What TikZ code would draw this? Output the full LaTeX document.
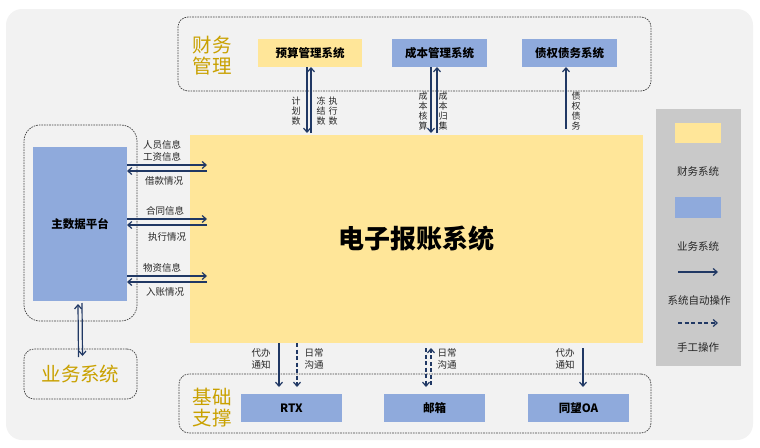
\documentclass[tikz,border=0pt]{standalone}
\usepackage{fontspec}
\setmainfont{Noto Sans CJK SC}
\usetikzlibrary{arrows.meta}
\definecolor{bgc}{HTML}{F2F2F2}
\definecolor{yel}{HTML}{FFE699}
\definecolor{blu}{HTML}{8FAADC}
\definecolor{legc}{HTML}{C9C9C9}
\definecolor{goldc}{HTML}{C9A100}
\definecolor{arrc}{HTML}{203864}
\definecolor{txtc}{HTML}{262626}
\begin{document}
\begin{tikzpicture}[x=1pt,y=-1pt,
  sysbox/.style={inner sep=0pt,outer sep=0pt,font=\fontsize{11.5}{12}\selectfont\bfseries,text=black},
  finbox/.style={sysbox,fill=yel},
  busbox/.style={sysbox,fill=blu},
  grp/.style={draw=black!75,line width=0.7pt,dash pattern=on 1.6pt off 1pt,rounded corners=10pt,inner sep=0pt,outer sep=0pt},
  goldlbl/.style={text=goldc,font=\fontsize{19.5}{21}\selectfont,align=center,inner sep=0pt},
  lbl/.style={text=txtc,font=\fontsize{9.5}{12}\selectfont,inner sep=0pt,align=center},
  vlbl/.style={text=txtc,font=\fontsize{9}{9.8}\selectfont,inner sep=0pt,align=center},
  leglbl/.style={text=txtc,font=\fontsize{10.5}{12}\selectfont,inner sep=0pt},
  con/.style={draw=arrc,line width=1.2pt,-{Straight Barb[length=4pt,width=7pt]}},
  mcon/.style={con,dash pattern=on 4pt off 2.5pt},
]
\useasboundingbox (0,0) rectangle (760,447);
\fill[bgc,rounded corners=16pt] (6,9) rectangle (753,440);

% groups
\node[grp,minimum width=473pt,minimum height=74pt] (fin) at (414.5,54) {};
\node[goldlbl] (finlbl) at (212,56) {财务\\管理};
\node[grp,rounded corners=16pt,minimum width=113pt,minimum height=196pt] (mdg) at (80.5,223) {};
\node[grp,goldlbl,draw=black!75,minimum width=113pt,minimum height=50pt] (bizg) at (80.5,374) {业务系统};
\node[grp,minimum width=472pt,minimum height=59pt] (jc) at (415,403.5) {};
\node[goldlbl] (jclbl) at (212,407.5) {基础\\支撑};

% system boxes
\node[finbox,minimum width=104pt,minimum height=28pt] (ys) at (310,53) {预算管理系统};
\node[busbox,minimum width=95pt,minimum height=28pt] (cb) at (439.5,53) {成本管理系统};
\node[busbox,minimum width=95pt,minimum height=28pt] (zq) at (569.5,53) {债权债务系统};
\node[fill=yel,inner sep=0pt,outer sep=0pt,minimum width=453pt,minimum height=208pt,font=\fontsize{26}{28}\selectfont\bfseries] (main) at (416.5,239) {电子报账系统};
\node[busbox,minimum width=94pt,minimum height=154pt] (mdp) at (80,224) {主数据平台};
\node[busbox,minimum width=101pt,minimum height=28pt] (rtx) at (291.5,408) {RTX};
\node[busbox,minimum width=101pt,minimum height=28pt] (yx) at (434.5,408) {邮箱};
\node[busbox,minimum width=101pt,minimum height=28pt] (oa) at (578.5,408) {同望OA};

% top connectors
\draw[con] ([xshift=-3pt]ys.south) -- ([xshift=-3pt,yshift=2pt]ys.south |- main.north);
\draw[con] ([xshift=1pt,yshift=2pt]ys.south |- main.north) -- ([xshift=1pt]ys.south);
\draw[con] ([xshift=-8.5pt]cb.south) -- ([xshift=-8.5pt,yshift=2pt]cb.south |- main.north);
\draw[con] ([xshift=-2.5pt,yshift=2pt]cb.south |- main.north) -- ([xshift=-2.5pt]cb.south);
\draw[con] ([xshift=-3.5pt,yshift=6pt]zq.south |- main.north) -- ([xshift=-3.5pt]zq.south);
\node[vlbl] (l1) at (296,111) {计\\划\\数};
\node[vlbl] (l2) at (321,111) {冻\\结\\数};
\node[vlbl] (l3) at (333,111) {执\\行\\数};
\node[vlbl] (l4) at (423,111) {成\\本\\核\\算};
\node[vlbl] (l5) at (443,111) {成\\本\\归\\集};
\node[vlbl] (l6) at (576,111) {债\\权\\债\\务};

% left connectors
\coordinate (re) at (207,0);
\coordinate (y1a) at (0,165); \coordinate (y1b) at (0,171);
\coordinate (y2a) at (0,219); \coordinate (y2b) at (0,225);
\coordinate (y3a) at (0,276); \coordinate (y3b) at (0,282);
\draw[con] (mdp.east |- y1a) -- (re |- y1a);
\draw[con] (re |- y1b) -- (mdp.east |- y1b);
\draw[con] (mdp.east |- y2a) -- (re |- y2a);
\draw[con] (re |- y2b) -- (mdp.east |- y2b);
\draw[con] (mdp.east |- y3a) -- (re |- y3a);
\draw[con] (re |- y3b) -- (mdp.east |- y3b);
\node[lbl] (a1) at (162,150.5) {人员信息\\工资信息};
\node[lbl] (a2) at (164,181) {借款情况};
\node[lbl] (a3) at (165,211) {合同信息};
\node[lbl] (a4) at (167,237) {执行情况};
\node[lbl] (a5) at (162,268) {物资信息};
\node[lbl] (a6) at (165,292) {入账情况};

% main data <-> business
\draw[con] ([xshift=-2pt,yshift=-8pt]bizg.north) -- ([xshift=-2pt,yshift=-3pt]mdp.south);
\draw[con] ([xshift=2pt,yshift=-2pt]mdp.south) -- ([xshift=2pt,yshift=-7pt]bizg.north);

% bottom connectors
\draw[con] ([xshift=-12.5pt]rtx.north |- main.south) -- ([xshift=-12.5pt,yshift=7pt]rtx.north);
\draw[mcon] ([xshift=5.5pt]rtx.north |- main.south) -- ([xshift=5.5pt,yshift=7pt]rtx.north);
\draw[mcon] ([xshift=-8.5pt,yshift=-5pt]yx.north |- main.south) -- ([xshift=-8.5pt,yshift=7pt]yx.north);
\draw[mcon] ([xshift=-3.5pt,yshift=9pt]yx.north) -- ([xshift=-3.5pt,yshift=-5pt]yx.north |- main.south);
\draw[con] ([xshift=4.5pt,yshift=-5pt]oa.north |- main.south) -- ([xshift=4.5pt,yshift=7pt]oa.north);
\node[lbl] (b1) at (261,358.5) {代办\\通知};
\node[lbl] (b2) at (314,358.5) {日常\\沟通};
\node[lbl] (b3) at (447,358.5) {日常\\沟通};
\node[lbl] (b4) at (565,358.5) {代办\\通知};

% legend
\node[fill=legc,inner sep=0pt,minimum width=85pt,minimum height=257pt] (legend) at (698.5,237.5) {};
\node[fill=yel,inner sep=0pt,minimum width=46pt,minimum height=20pt] (sw1) at (698,133) {};
\node[leglbl] (t1) at (698,171) {财务系统};
\node[fill=blu,inner sep=0pt,minimum width=46pt,minimum height=21pt] (sw2) at (698,207.5) {};
\node[leglbl] (t2) at (698,246) {业务系统};
\coordinate (la1) at (678,272); \coordinate (la2) at (718,272);
\draw[con] (la1) -- (la2);
\node[leglbl] (t3) at (699,300) {系统自动操作};
\coordinate (lb1) at (678,323); \coordinate (lb2) at (718,323);
\draw[mcon] (lb1) -- (lb2);
\node[leglbl] (t4) at (698,348) {手工操作};
\end{tikzpicture}
\end{document}
